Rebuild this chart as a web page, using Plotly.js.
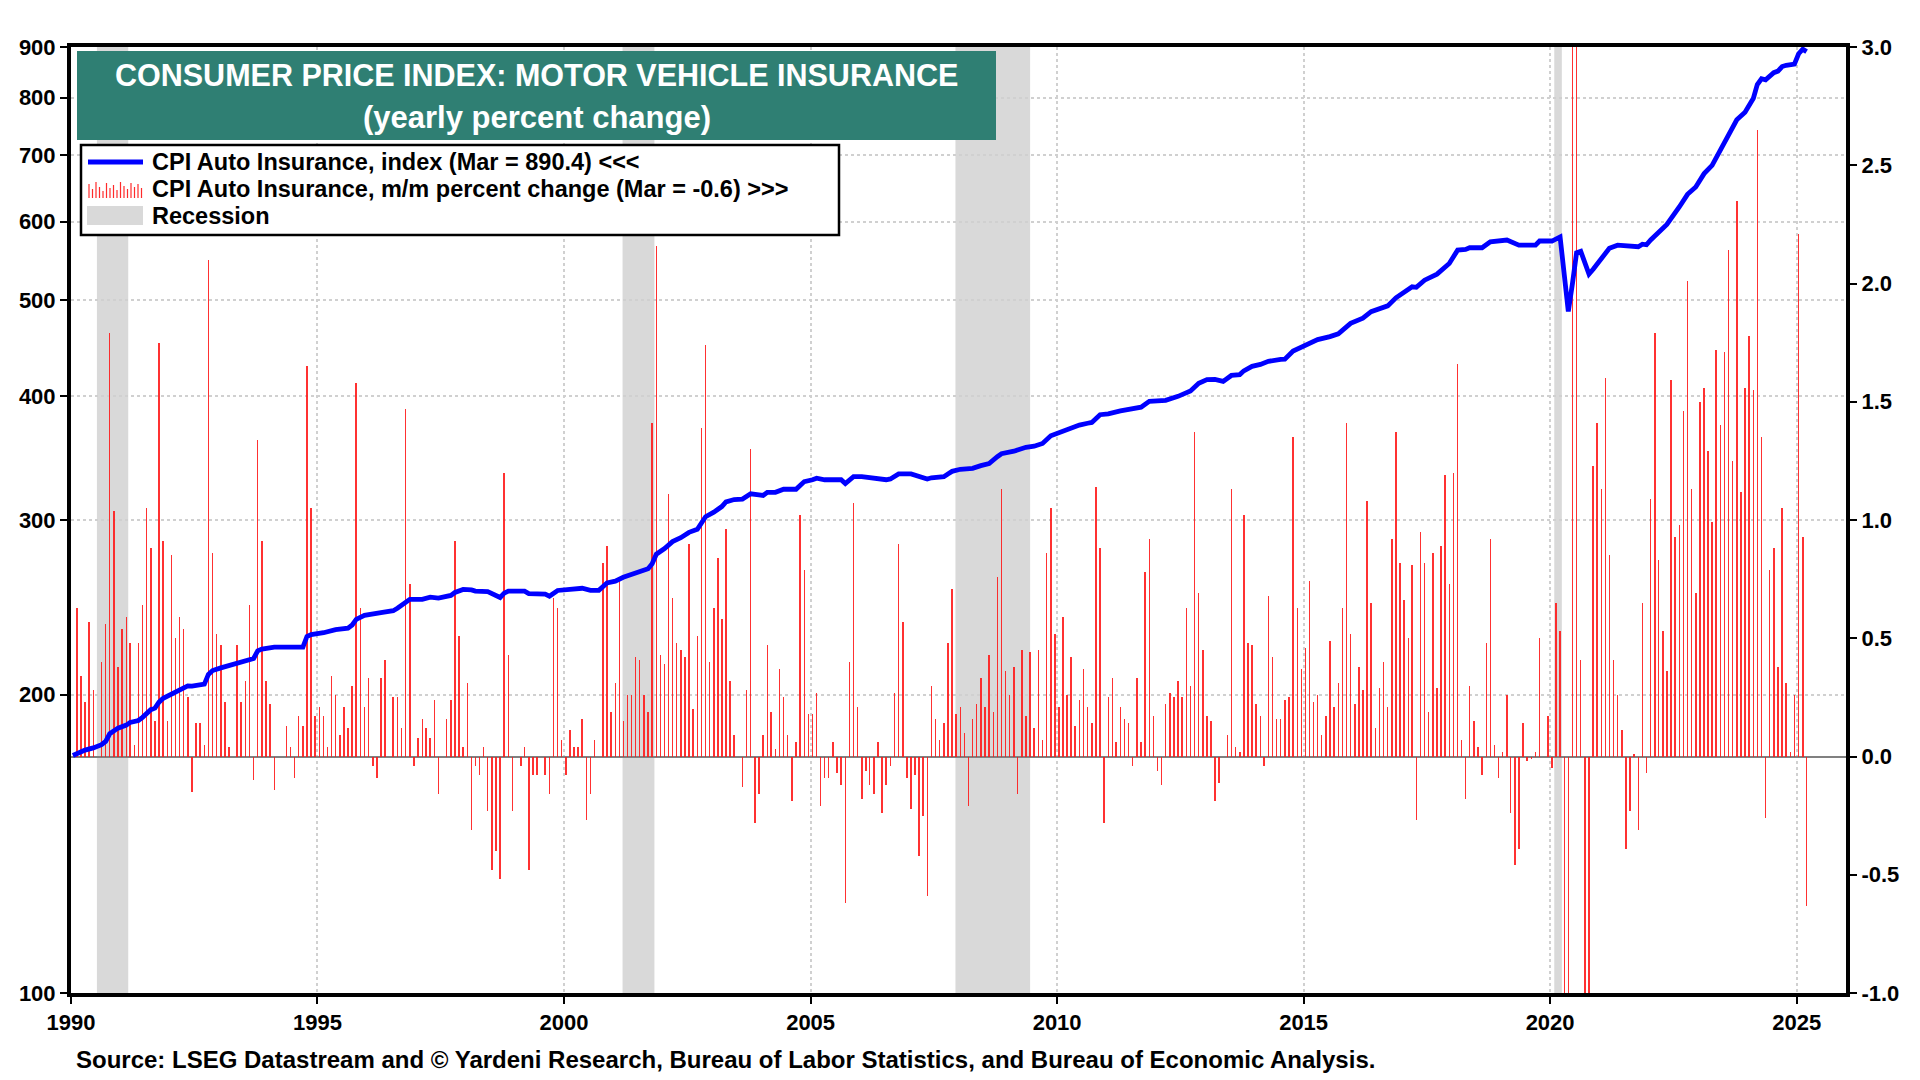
<!DOCTYPE html>
<html>
<head>
<meta charset="utf-8">
<script src="https://cdn.plot.ly/plotly-3.0.1.min.js"></script>
<style>
html,body{margin:0;padding:0;background:#fff;}
#chart{width:1920px;height:1080px;}
</style>
</head>
<body>
<div id="chart"></div>
<script>
// ---------- DATA ----------
// m/m percent change, monthly, first value = Feb 1990, last = Mar 2025
const barStartYear = 1990;
const barStartMonth = 2;
const barValues = [
0.63,0.34,0.23,0.57,0.28,0,0.40,0.56,1.79,1.04,0.38,0.54,0.59,0.48,0.05,0.48,0.64,1.05,0.88,0.15,
1.75,0.91,0.15,0.85,0.50,0.59,0.54,0.25,-0.15,0.14,0.14,0.05,2.10,0.86,0.52,0.47,0.23,0.04,0,0.47,
0.23,0.32,0.64,-0.10,1.34,0.91,0.32,0.22,-0.14,0,0,0.13,0.04,-0.09,0.17,0.13,1.65,1.05,0.17,0.21,
0.17,0.04,0.34,0.26,0.09,0.21,0.12,0.30,1.58,0.63,0.21,0.33,-0.04,-0.09,0.33,0.41,0,0.25,0.25,0.12,
1.47,0.73,-0.04,0.08,0.16,0.12,0.08,0.24,-0.16,0,0.16,0.24,0.91,0.51,0.04,0.31,-0.31,-0.04,-0.08,0.04,
-0.23,-0.48,-0.40,-0.52,1.20,0.43,-0.23,0,-0.04,0.04,-0.48,-0.08,-0.08,0,-0.08,-0.16,0.67,0.63,0.07,-0.08,
0.11,0.04,0.04,0.16,-0.27,-0.16,0.07,0,0.82,0.89,0.19,0.31,0.74,0.15,0.26,0.26,0.42,0.41,0.26,0.19,
1.41,2.16,0.43,0.39,1.11,0.67,0.48,0.45,0.42,0.90,0.20,0.51,1.39,1.74,0.40,0.63,0.84,0.58,0.96,0.32,
0.09,0,-0.13,0.28,1.30,-0.28,-0.16,0.09,0.47,0.19,0.03,0.37,0.25,0.09,-0.19,0.06,1.02,0.79,0.18,0.18,
0.27,-0.21,-0.09,-0.09,0.06,-0.07,-0.12,-0.62,0.40,1.07,0.21,-0.18,-0.06,-0.12,-0.16,0.06,-0.24,-0.12,-0.04,0.27,
0.90,0.57,-0.09,-0.22,-0.08,-0.42,-0.25,-0.59,0.30,0.16,0.07,0.14,0.48,0.71,0.18,0.21,0.10,-0.21,0.16,0.22,
0.33,0.21,0.43,0.19,0.76,1.13,0.36,0.26,0.38,-0.16,0.45,0.17,0.44,0.12,0.45,0.07,0.86,1.05,0.52,0.21,
0.59,0.26,0.42,0.13,0.24,0.37,0.21,0.14,1.14,0.88,-0.28,0.25,0.33,0.06,0.21,0.16,0.14,-0.04,0.33,0.06,
0.78,0.92,0.17,-0.06,-0.12,0.22,0.27,0.25,0.32,0.25,0.63,0.30,1.37,0.69,0.45,0.17,0.15,-0.19,-0.11,0,
0.09,1.13,0.04,0.02,1.02,0.48,0.47,0.22,0.17,-0.04,0.68,0.42,0.16,0.16,0.24,0.25,1.35,0.63,0.37,0.46,
0.74,0.23,0.26,0.09,0.17,0.49,0.21,0.31,0.63,1.41,0.52,0.22,0.38,0.28,1.08,0.65,0.12,0.29,0.40,0.21,
0.92,1.37,0.82,0.66,0.50,0.81,-0.27,0.95,0.82,0.19,0.86,0.29,0.89,1.19,0.73,1.20,1.66,0.07,-0.18,0.30,
0.15,0.04,-0.08,0.48,0.92,0.05,-0.09,0.02,0.26,-0.24,-0.46,-0.39,0.14,-0.02,-0.01,0.02,0.50,0,0.17,-0.05,
0.65,0.53,-8.5,-8.1,6.8,7.3,0.41,-2.7,-2.6,1.23,1.41,1.13,1.60,0.85,0.41,0.26,0.11,-0.39,-0.23,0.01,
-0.31,0.65,-0.07,1.09,1.79,0.83,0.53,0.36,1.59,0.93,0.98,1.46,2.01,1.13,0.69,1.50,1.56,1.29,0.99,1.72,
1.40,1.71,2.14,1.25,2.35,1.12,1.56,1.78,1.55,2.65,1.35,-0.26,0.79,0.88,0.38,1.05,0.31,0.02,0.26,2.21,
0.93,-0.63
];

// CPI Auto Insurance index
const lineDates = [
'1990-01','1990-02','1990-04','1990-06','1990-08','1990-09','1990-10','1990-12','1991-02','1991-03',
'1991-05','1991-06','1991-08','1991-09','1991-10','1991-11','1992-01','1992-03','1992-05','1992-06',
'1992-08','1992-09','1992-10','1992-11','1993-01','1993-03','1993-05','1993-08','1993-09','1993-10',
'1993-11','1994-02','1994-09','1994-10','1994-11','1995-02','1995-05','1995-08','1995-09','1995-10',
'1995-12','1996-04','1996-07','1996-08','1996-10','1996-11','1997-02','1997-04','1997-06','1997-09',
'1997-10','1997-12','1998-02','1998-03','1998-06','1998-08','1998-09','1998-10','1998-11','1999-03',
'1999-04','1999-08','1999-09','1999-11','2000-02','2000-05','2000-07','2000-09','2000-11','2001-01',
'2001-03','2001-05','2001-07','2001-09','2001-10','2001-11','2002-01','2002-03','2002-05','2002-07',
'2002-09','2002-10','2002-11','2003-01','2003-03','2003-04','2003-06','2003-08','2003-10','2003-12',
'2004-01','2004-02','2004-04','2004-06','2004-09','2004-10','2004-11','2005-01','2005-02','2005-04',
'2005-08','2005-09','2005-11','2006-01','2006-03','2006-05','2006-07','2006-08','2006-10','2007-01',
'2007-03','2007-05','2007-06','2007-09','2007-10','2007-11','2008-01','2008-04','2008-06','2008-08',
'2008-10','2008-11','2009-02','2009-05','2009-07','2009-09','2009-11','2010-01','2010-04','2010-06',
'2010-08','2010-09','2010-11','2011-01','2011-04','2011-07','2011-09','2011-11','2012-03','2012-06',
'2012-09','2012-11','2013-01','2013-03','2013-05','2013-07','2013-09','2013-10','2013-12','2014-02',
'2014-04','2014-07','2014-08','2014-10','2014-12','2015-02','2015-04','2015-07','2015-09','2015-12',
'2016-01','2016-03','2016-05','2016-07','2016-09','2016-11','2017-01','2017-03','2017-04','2017-06',
'2017-09','2017-12','2018-02','2018-04','2018-05','2018-08','2018-10','2019-01','2019-02','2019-05',
'2019-09','2019-10','2020-01','2020-03','2020-04','2020-05','2020-06','2020-07','2020-08','2020-09',
'2020-10','2020-11','2020-12','2021-01','2021-02','2021-03','2021-05','2021-07','2021-10','2021-11',
'2021-12','2022-01','2022-03','2022-05','2022-08','2022-10','2022-12','2023-02','2023-04','2023-06',
'2023-08','2023-10','2023-12','2024-01','2024-02','2024-03','2024-04','2024-05','2024-06','2024-07',
'2024-08','2024-09','2024-10','2024-11','2024-12','2025-01','2025-02','2025-03'
];
const lineValues = [
173.6,174.4,175.8,176.7,178.0,179.4,182.6,185.0,186.3,187.5,
188.3,189.7,193.1,193.8,196.5,198.3,200.4,202.6,204.1,204.0,
204.4,204.9,209.6,211.5,212.8,213.9,215.2,217.1,217.5,221.4,
222.3,223.3,223.3,228.9,229.9,230.9,232.6,233.4,235.1,238.2,
240.4,241.9,243.0,244.4,248.0,249.5,249.5,250.8,250.2,251.8,
253.5,255.3,255.0,254.3,254.0,251.3,250.6,253.1,254.3,254.3,
252.9,252.5,251.3,254.7,255.0,256.0,254.8,254.8,259.2,260.3,
262.6,264.3,266.7,267.9,271.0,277.1,280.8,285.3,287.9,291.5,
293.6,298.3,302.3,305.5,309.5,312.9,314.6,314.9,318.8,318.0,
317.6,319.9,319.9,322.2,322.2,325.1,328.0,329.4,330.6,329.4,
329.4,326.5,331.8,331.8,330.9,330.0,329.4,330.0,333.9,333.9,
331.8,330.0,330.9,331.8,333.9,335.9,337.5,338.3,340.4,342.0,
347.5,349.9,352.0,355.2,356.1,358.4,364.8,367.4,372.0,374.0,
375.6,376.3,383.1,383.8,386.5,388.2,389.9,395.2,396.1,399.8,
404.8,412.1,415.7,415.8,414.0,419.7,420.5,424.2,428.7,430.6,
433.7,435.6,435.9,444.1,448.5,452.5,456.1,459.3,462.3,473.6,
476.1,479.5,486.7,490.2,493.3,502.6,509.7,515.6,515.0,523.6,
531.0,544.4,561.5,562.4,564.6,564.6,572.5,573.8,574.8,568.0,
568.0,573.5,573.5,579.0,530.0,487.0,520.0,558.0,560.0,545.0,
531.0,537.0,544.0,550.0,559.0,564.0,568.0,566.7,566.0,569.3,
568.5,575.0,586.0,596.0,620.7,639.2,650.2,670.7,683.7,707.9,
735.6,760.0,773.6,787.0,799.0,825.0,836.0,834.0,840.6,848.0,
851.0,860.0,862.6,862.8,865.0,886.0,895.5,890.4
];

// Recession periods
const recStart = ['1990-07-12','2001-03-10','2007-12-10','2020-02-01'];
const recEnd   = ['1991-03-01','2001-11-01','2009-06-15','2020-03-28'];

// Tick labels
const leftTicks = [100,200,300,400,500,600,700,800,900];
const rightTicks = [-1.0,-0.5,0.0,0.5,1.0,1.5,2.0,2.5,3.0];
const yearTicks = [1990,1995,2000,2005,2010,2015,2020,2025];

const titleLine1 = 'CONSUMER PRICE INDEX: MOTOR VEHICLE INSURANCE';
const titleLine2 = '(yearly percent change)';
const legendTexts = [
  'CPI Auto Insurance, index (Mar = 890.4) <<<',
  'CPI Auto Insurance, m/m percent change (Mar = -0.6) >>>',
  'Recession'
];
const sourceText = 'Source: LSEG Datastream and \u00A9 Yardeni Research, Bureau of Labor Statistics, and Bureau of Economic Analysis.';

// ---------- BUILD ----------
function pad(n){return (n<10?'0':'')+n;}
const barDates = barValues.map((v,i)=>{
  const mi = (barStartMonth-1)+i;
  const y = barStartYear + Math.floor(mi/12);
  const m = mi%12+1;
  return y+'-'+pad(m)+'-15';
});
const lineX = lineDates.map(d=>d+'-15');

// pixel geometry of the plot area
const W=1920,H=1080;
const L=71,R=1846,T=47,B=993;
const px=x=>(x-L)/(R-L);
const py=y=>(B-y)/(B-T);

const FONT='Arial, "Liberation Sans", sans-serif';

const traces = [
  {
    type:'bar', x:barDates, y:barValues, yaxis:'y', xaxis:'x',
    marker:{color:'rgba(255,20,20,0.88)', line:{width:0}},
    width: 11*86400000,
    hoverinfo:'skip', showlegend:false
  },
  {
    type:'scatter', mode:'lines', x:lineX, y:lineValues, yaxis:'y2', xaxis:'x',
    line:{color:'#0000ff', width:4.8},
    hoverinfo:'skip', showlegend:false
  }
];

const shapes = [];
recStart.forEach((s,i)=>{
  shapes.push({type:'rect', xref:'x', yref:'paper', x0:s, x1:recEnd[i], y0:0, y1:1,
    fillcolor:'#d9d9d9', line:{width:0}, layer:'below'});
});
// title box
shapes.push({type:'rect', xref:'paper', yref:'paper', x0:px(77), x1:px(996), y0:py(140), y1:py(51),
  fillcolor:'#2f7f73', line:{width:0}, layer:'above'});
// legend box
shapes.push({type:'rect', xref:'paper', yref:'paper', x0:px(81), x1:px(839), y0:py(235), y1:py(145),
  fillcolor:'#ffffff', line:{color:'#000000', width:2.5}, layer:'above'});
// legend: blue line symbol
shapes.push({type:'line', xref:'paper', yref:'paper', x0:px(88), x1:px(143), y0:py(162), y1:py(162),
  line:{color:'#0000ff', width:5}, layer:'above'});
// legend: bar symbol (small red strokes)
const iconH = [14,9,16,11,7,15,10,13,8,16,12,9,15,11,14,10];
iconH.forEach((h,i)=>{
  const xx = 89 + i*3.5;
  shapes.push({type:'line', xref:'paper', yref:'paper', x0:px(xx), x1:px(xx), y0:py(198), y1:py(198-h),
    line:{color:'rgba(255,20,20,0.9)', width:1.2}, layer:'above'});
});
// legend: recession symbol
shapes.push({type:'rect', xref:'paper', yref:'paper', x0:px(87), x1:px(143), y0:py(225), y1:py(206),
  fillcolor:'#d9d9d9', line:{width:0}, layer:'above'});

const annotations = [
  {xref:'paper', yref:'paper', x:px(536.5), y:py(75), text:titleLine1, showarrow:false,
   xanchor:'center', yanchor:'middle', font:{family:FONT, size:30.5, color:'#ffffff', weight:'bold'}},
  {xref:'paper', yref:'paper', x:px(536.5), y:py(117.5), text:titleLine2, showarrow:false,
   xanchor:'center', yanchor:'middle', font:{family:FONT, size:31, color:'#ffffff', weight:'bold'}}
];
[162,189,216].forEach((yy,i)=>{
  annotations.push({xref:'paper', yref:'paper', x:px(150), y:py(yy), text:legendTexts[i], showarrow:false,
    xanchor:'left', yanchor:'middle', font:{family:FONT, size:23.5, color:'#000000', weight:'bold'}});
});
annotations.push({xref:'paper', yref:'paper', x:px(74), y:py(1059), text:sourceText, showarrow:false,
  xanchor:'left', yanchor:'middle', font:{family:FONT, size:24, color:'#000000', weight:'bold'}});

const tickFont = {family:FONT, size:22, color:'#000000', weight:'bold'};

const layout = {
  width:W, height:H,
  margin:{l:L, r:W-R, t:T, b:H-B, pad:0},
  paper_bgcolor:'#ffffff', plot_bgcolor:'rgba(0,0,0,0)',
  showlegend:false,
  bargap:0,
  xaxis:{
    type:'date', range:['1990-01-01','2026-01-01'],
    tickvals: yearTicks.map(y=>y+'-01-01'), ticktext: yearTicks.map(String),
    showgrid:true, gridcolor:'#d0d0d0', griddash:'dot', gridwidth:2,
    showline:true, linecolor:'#000000', linewidth:4, mirror:true,
    ticks:'outside', ticklen:7, tickwidth:2, tickcolor:'#000000',
    tickfont:tickFont, zeroline:false, fixedrange:true
  },
  yaxis:{
    side:'right', range:[-1,3],
    tickvals:rightTicks, ticktext:rightTicks.map(v=>v.toFixed(1)),
    showgrid:false, zeroline:true, zerolinecolor:'#808080', zerolinewidth:2,
    showline:true, linecolor:'#000000', linewidth:4,
    ticks:'outside', ticklen:7, tickwidth:2, tickcolor:'#000000',
    tickfont:tickFont, fixedrange:true
  },
  yaxis2:{
    type:'log', overlaying:'y', side:'left', range:[2, Math.log10(900)],
    tickvals:leftTicks, ticktext:leftTicks.map(String),
    showgrid:true, gridcolor:'#d0d0d0', griddash:'dot', gridwidth:2,
    showline:true, linecolor:'#000000', linewidth:4,
    ticks:'outside', ticklen:7, tickwidth:2, tickcolor:'#000000',
    tickfont:tickFont, zeroline:false, fixedrange:true
  },
  shapes:shapes,
  annotations:annotations
};

Plotly.newPlot('chart', traces, layout, {staticPlot:true, displayModeBar:false});
</script>
</body>
</html>
